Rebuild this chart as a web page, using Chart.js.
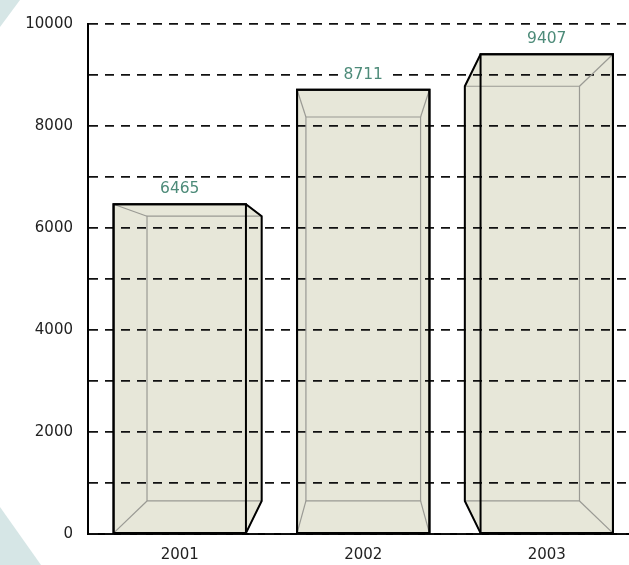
<!DOCTYPE html>
<html><head><meta charset="utf-8">
<script src="https://cdn.jsdelivr.net/npm/chart.js@4/dist/chart.umd.min.js"></script>
<style>
html,body{margin:0;padding:0;background:#fff;overflow:hidden;}
#wrap{position:relative;width:629px;height:565px;overflow:hidden;background:#fff;}
#c{position:absolute;left:0;top:0;}
</style></head><body>
<div id="wrap"><canvas id="c" width="641" height="565" style="width:641px;height:565px"></canvas></div>
<script>
const categories = ['2001', '2002', '2003'];
const values = [6465, 8711, 9407];
const yTickLabels = [0, 2000, 4000, 6000, 8000, 10000];

const FILL = '#e7e7d9';
const TEAL = '#4d8b79';
const FONT = '"DejaVu Sans", sans-serif';

function boxGeom(chart, el) {
  const ca = chart.chartArea;
  const vx = (ca.left + ca.right) / 2;
  const vy = ca.top + 0.528 * (ca.bottom - ca.top);
  const s = 0.866;
  const L = el.x - el.width / 2, R = el.x + el.width / 2, T = el.y, B = el.base;
  const p = (x, y) => [vx + s * (x - vx), vy + s * (y - vy)];
  const f = {tl: [L, T], tr: [R, T], bl: [L, B], br: [R, B]};
  const b = {tl: p(L, T), tr: p(R, T), bl: p(L, B), br: p(R, B)};
  let hull;
  if (b.tr[0] > R + 0.5) hull = [f.tl, f.tr, b.tr, b.br, f.br, f.bl];
  else if (b.tl[0] < L - 0.5) hull = [b.tl, f.tl, f.tr, f.br, f.bl, b.bl];
  else hull = [f.tl, f.tr, f.br, f.bl];
  return {f, b, hull};
}
function poly(ctx, pts, close) {
  ctx.beginPath();
  ctx.moveTo(pts[0][0], pts[0][1]);
  for (let i = 1; i < pts.length; i++) ctx.lineTo(pts[i][0], pts[i][1]);
  if (close) ctx.closePath();
}

const decor = {
  id: 'decor',
  beforeDraw(chart) {
    const ctx = chart.ctx;
    ctx.save();
    ctx.fillStyle = '#fff';
    ctx.fillRect(0, 0, chart.width, chart.height);
    ctx.fillStyle = '#d6e6e6';
    poly(ctx, [[0, 0], [20, 0], [0, 27]], true); ctx.fill();
    poly(ctx, [[0, 507], [41, 565], [0, 565]], true); ctx.fill();
    ctx.restore();
  }
};

const boxes = {
  id: 'boxes',
  afterDatasetsDraw(chart) {
    const ctx = chart.ctx;
    ctx.save();
    chart.getDatasetMeta(0).data.forEach(el => {
      const g = boxGeom(chart, el);
      ctx.fillStyle = FILL;
      poly(ctx, g.hull, true); ctx.fill();
    });
    ctx.restore();
  },
  afterDraw(chart) {
    const ctx = chart.ctx;
    ctx.save();
    const meta = chart.getDatasetMeta(0);
    meta.data.forEach((el, i) => {
      const g = boxGeom(chart, el);
      const {f, b} = g;
      ctx.strokeStyle = '#9a9a94';
      ctx.lineWidth = 1.2;
      poly(ctx, [b.tl, b.tr, b.br, b.bl], true); ctx.stroke();
      ['tl', 'tr', 'bl', 'br'].forEach(k => {
        poly(ctx, [f[k], b[k]], false); ctx.stroke();
      });
      ctx.strokeStyle = '#000';
      ctx.lineWidth = 2;
      ctx.lineJoin = 'miter';
      poly(ctx, [f.tl, f.tr, f.br, f.bl], true); ctx.stroke();
      poly(ctx, g.hull, true); ctx.stroke();
      const txt = String(values[i]);
      ctx.font = '15.5px ' + FONT;
      const w = ctx.measureText(txt).width;
      const ly = el.y - 15;
      ctx.fillStyle = '#fff';
      ctx.fillRect(el.x - w / 2 - 4, ly - 8, w + 8, 16);
      ctx.fillStyle = TEAL;
      ctx.textAlign = 'center';
      ctx.textBaseline = 'middle';
      ctx.fillText(txt, el.x, ly);
    });
    ctx.restore();
  }
};

new Chart(document.getElementById('c'), {
  type: 'bar',
  data: {
    labels: categories,
    datasets: [{
      data: values,
      backgroundColor: 'rgba(0,0,0,0)',
      borderWidth: 0,
      barPercentage: 0.7215,
      categoryPercentage: 1
    }]
  },
  options: {
    responsive: false,
    animation: false,
    devicePixelRatio: 1,
    layout: {padding: {top: 21.5, right: 2.5, left: 0, bottom: 0}},
    plugins: {legend: {display: false}, tooltip: {enabled: false}},
    scales: {
      x: {
        afterFit(s) { s.height = 31; },
        grid: {display: false, drawTicks: false},
        border: {display: true, color: '#000', width: 2},
        ticks: {color: '#222', font: {family: FONT, size: 15}, padding: 12}
      },
      y: {
        min: 0, max: 10000,
        afterFit(s) { s.width = 88; },
        grid: {color: '#111', lineWidth: 1.8, drawTicks: false, z: 1},
        border: {display: true, color: '#000', width: 2, dash: [9, 7], z: 1},
        ticks: {
          stepSize: 1000, autoSkip: false, padding: 15,
          color: '#222', font: {family: FONT, size: 15},
          callback: v => yTickLabels.includes(v) ? String(v) : ''
        }
      }
    }
  },
  plugins: [decor, boxes]
});
</script>
</body></html>
